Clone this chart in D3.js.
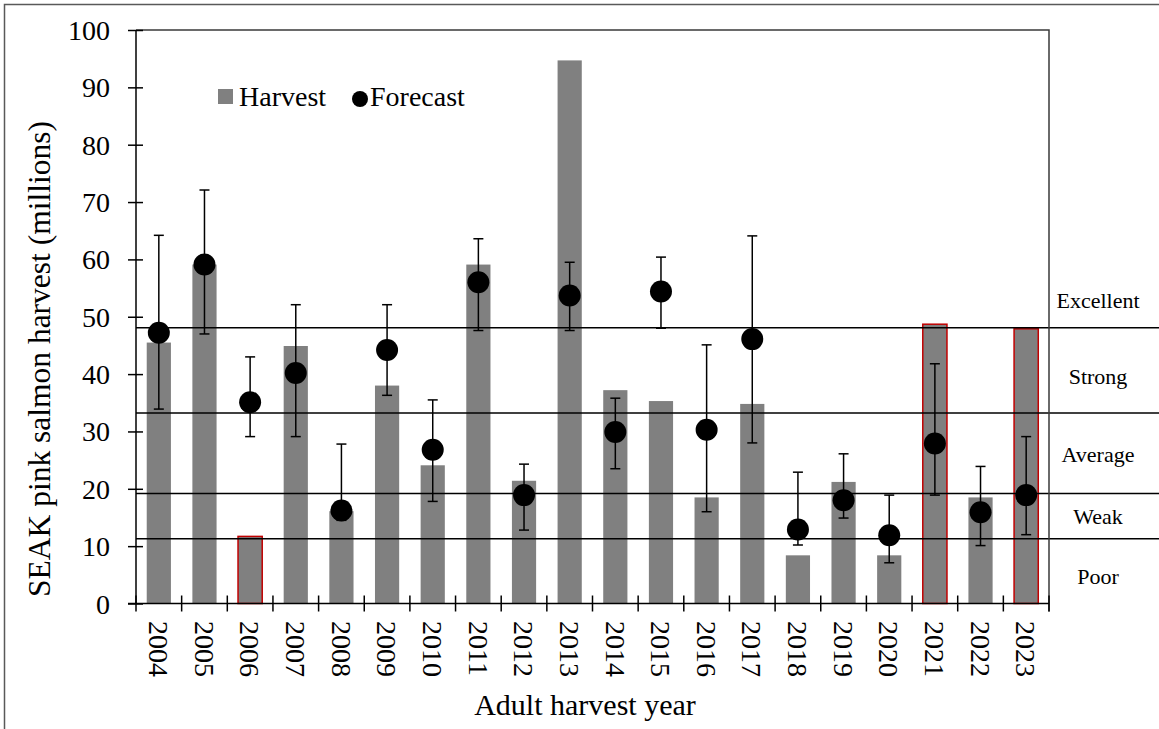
<!DOCTYPE html>
<html>
<head>
<meta charset="utf-8">
<script src="https://cdn.jsdelivr.net/npm/d3@7"></script>
<style>
  html, body { margin: 0; padding: 0; background: #fff; }
  svg { display: block; }
  svg text { font-family: "Liberation Serif", "Times New Roman", serif !important; fill: #000; }
</style>
</head>
<body>
<svg id="chart" width="1159" height="729"></svg>
<script>
// ---- data ----
const years = ["2004","2005","2006","2007","2008","2009","2010","2011","2012","2013",
               "2014","2015","2016","2017","2018","2019","2020","2021","2022","2023"];
const harvest  = [45.5, 59.1, 11.7, 44.9, 16.1, 38.0, 24.1, 59.1, 21.4, 94.7,
                  37.2, 35.3, 18.5, 34.8, 8.4, 21.2, 8.4, 48.7, 18.5, 47.9];
const forecast = [47.2, 59.1, 35.1, 40.2, 16.2, 44.2, 26.8, 56.0, 18.9, 53.7,
                  29.9, 54.4, 30.3, 46.1, 12.9, 18.0, 11.9, 27.9, 15.9, 18.9];
const upper    = [64.2, 72.1, 43.0, 52.1, 27.8, 52.1, 35.5, 63.6, 24.3, 59.5,
                  35.8, 60.4, 45.1, 64.1, 22.9, 26.1, 18.9, 41.8, 23.9, 29.1];
const lower    = [33.9, 47.0, 29.1, 29.1, 14.5, 36.3, 17.8, 47.6, 12.8, 47.6,
                  23.5, 48.0, 16.0, 28.0, 10.2, 14.9, 7.1, 18.9, 10.1, 12.0];
const highlighted = ["2006", "2021", "2023"];
const thresholds = [11.3, 19.2, 33.2, 48.1];
const categoryLabels = ["Poor", "Weak", "Average", "Strong", "Excellent"];
const categoryLabelValues = [4.7, 15.2, 26.0, 39.5, 52.8];
const yTicks = [0, 10, 20, 30, 40, 50, 60, 70, 80, 90, 100];

// ---- layout ----
const FONT = '"Liberation Serif", "Times New Roman", serif';
const L = 136, R = 1049, T = 30, B = 603.5;
const svg = d3.select("#chart");

const x = d3.scaleBand().domain(years).range([L, R]).paddingInner(0.47).paddingOuter(0.235);
const y = d3.scaleLinear().domain([0, 100]).range([B, T]);

// outer border (cropped at right/bottom)
svg.append("path")
  .attr("d", `M4.5,729 L4.5,4.5 L1159,4.5`)
  .attr("fill", "none").attr("stroke", "#595959").attr("stroke-width", 1.5);

// bars
svg.append("g").selectAll("rect").data(years).join("rect")
  .attr("x", d => x(d))
  .attr("width", x.bandwidth())
  .attr("y", (d, i) => y(harvest[i]))
  .attr("height", (d, i) => y(0) - y(harvest[i]))
  .attr("fill", "#808080")
  .attr("stroke", d => highlighted.includes(d) ? "#c00000" : "none")
  .attr("stroke-width", 1.5);

// threshold lines
svg.append("g").selectAll("line").data(thresholds).join("line")
  .attr("x1", L).attr("x2", 1159)
  .attr("y1", d => y(d)).attr("y2", d => y(d))
  .attr("stroke", "#000").attr("stroke-width", 1.5);

// category labels on right
svg.append("g").selectAll("text").data(categoryLabels).join("text")
  .attr("x", 1098)
  .attr("y", (d, i) => y(categoryLabelValues[i]) + 7.5)
  .attr("text-anchor", "middle")
  .attr("font-family", FONT)
  .attr("font-size", 22)
  .text(d => d);

// frame top and right
svg.append("path")
  .attr("d", `M${L},${T} L${R},${T} L${R},${B + 8}`)
  .attr("fill", "none").attr("stroke", "#3a3a3a").attr("stroke-width", 1.5);

// error bars
const eb = svg.append("g").attr("stroke", "#000").attr("stroke-width", 1.5);
years.forEach((d, i) => {
  const cx = x(d) + x.bandwidth() / 2;
  eb.append("line").attr("x1", cx).attr("x2", cx).attr("y1", y(upper[i])).attr("y2", y(lower[i]));
  eb.append("line").attr("x1", cx - 5).attr("x2", cx + 5).attr("y1", y(upper[i])).attr("y2", y(upper[i]));
  eb.append("line").attr("x1", cx - 5).attr("x2", cx + 5).attr("y1", y(lower[i])).attr("y2", y(lower[i]));
});

// forecast points
svg.append("g").selectAll("circle").data(years).join("circle")
  .attr("cx", d => x(d) + x.bandwidth() / 2)
  .attr("cy", (d, i) => y(forecast[i]))
  .attr("r", 11)
  .attr("fill", "#000");

// y axis
const yAxis = svg.append("g").attr("transform", `translate(${L},0)`)
  .call(d3.axisLeft(y).tickValues(yTicks).tickSize(8).tickPadding(18).tickFormat(d3.format("d")))
  .attr("font-family", FONT).attr("font-size", 28);
yAxis.select(".domain").attr("stroke", "#000").attr("stroke-width", 1.5).attr("d", `M0,${T}V${B}`);
yAxis.selectAll(".tick line").attr("x1", 7).attr("x2", -8).attr("stroke", "#000").attr("stroke-width", 1.5);
yAxis.selectAll(".tick text").attr("fill", "#000").attr("dy", "0.34em");

// x axis line and boundary ticks
svg.append("line").attr("x1", L - 8).attr("x2", R).attr("y1", B).attr("y2", B)
  .attr("stroke", "#000").attr("stroke-width", 1.5);
const step = x.step();
svg.append("g").selectAll("line").data(d3.range(years.length + 1)).join("line")
  .attr("x1", i => L + i * step).attr("x2", i => L + i * step)
  .attr("y1", B - 8).attr("y2", B + 8)
  .attr("stroke", "#000").attr("stroke-width", 1.5);

// x tick labels (rotated)
svg.append("g").selectAll("text").data(years).join("text")
  .attr("transform", d => `translate(${x(d) + x.bandwidth() / 2},621) rotate(90)`)
  .attr("dy", "0.35em")
  .attr("text-anchor", "start")
  .attr("font-family", FONT)
  .attr("font-size", 28)
  .text(d => d);

// axis titles
svg.append("text")
  .attr("x", 585).attr("y", 715)
  .attr("text-anchor", "middle")
  .attr("font-family", FONT)
  .attr("font-size", 30)
  .text("Adult harvest year");

svg.append("text")
  .attr("transform", "translate(50,359) rotate(-90)")
  .attr("text-anchor", "middle")
  .attr("font-family", FONT)
  .attr("font-size", 31.5)
  .text("SEAK pink salmon harvest (millions)");

// legend
const lg = svg.append("g");
lg.append("rect").attr("x", 218).attr("y", 89).attr("width", 15).attr("height", 15).attr("fill", "#808080");
lg.append("text").attr("x", 239).attr("y", 106).attr("font-family", FONT).attr("font-size", 28).text("Harvest");
lg.append("circle").attr("cx", 360).attr("cy", 99).attr("r", 8).attr("fill", "#000");
lg.append("text").attr("x", 370).attr("y", 106).attr("font-family", FONT).attr("font-size", 28).text("Forecast");
</script>
</body>
</html>
